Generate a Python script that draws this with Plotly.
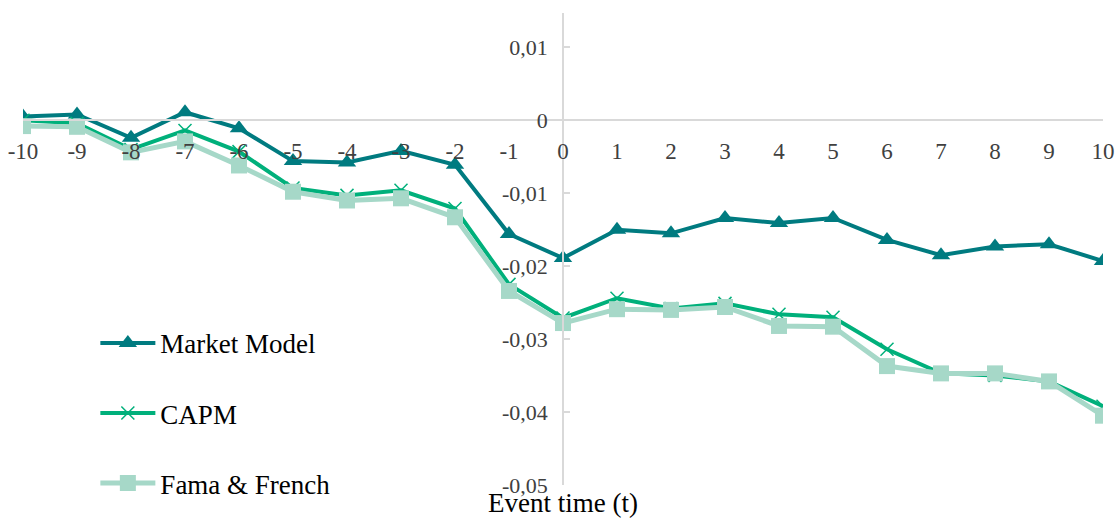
import plotly.graph_objects as go

# Event window (days relative to the event)
event_days = list(range(-10, 11))
x_tick_labels = [str(d) for d in event_days]

# Cumulative abnormal returns per model
market_model = [0.0005, 0.0008, -0.0024, 0.0011, -0.0011, -0.0056, -0.0058, -0.0042, -0.0061,
                -0.0156, -0.0189, -0.0150, -0.0155, -0.0134, -0.0141, -0.0134, -0.0164,
                -0.0185, -0.0173, -0.0170, -0.0193]
capm = [0.0000, -0.0004, -0.0040, -0.0014, -0.0043, -0.0093, -0.0103, -0.0096, -0.0121,
        -0.0225, -0.0271, -0.0244, -0.0258, -0.0251, -0.0266, -0.0270, -0.0314,
        -0.0347, -0.0350, -0.0358, -0.0392]
fama_french = [-0.0008, -0.0009, -0.0044, -0.0029, -0.0062, -0.0098, -0.0110, -0.0107, -0.0133,
               -0.0234, -0.0278, -0.0259, -0.0260, -0.0256, -0.0282, -0.0283, -0.0337,
               -0.0347, -0.0347, -0.0358, -0.0405]

y_tick_values = [-0.05, -0.04, -0.03, -0.02, -0.01, 0.0, 0.01]
y_tick_labels = ["-0,05", "-0,04", "-0,03", "-0,02", "-0,01", "0", "0,01"]

Y_MIN, Y_MAX = -0.05, 0.0147
X_MIN, X_MAX = -10, 10

FONT = "Liberation Serif"
AXIS_GREY = "#D9D9D9"
TICK_COLOR = "#404040"

fig = go.Figure()

fig.add_trace(go.Scatter(
    x=event_days, y=market_model, name="Market Model", mode="lines+markers",
    line=dict(color="#007B80", width=4),
    marker=dict(symbol="triangle-up", size=16, color="#007B80"),
    legendgroup="mm",
))
fig.add_trace(go.Scatter(
    x=event_days, y=capm, name="CAPM", mode="lines+markers",
    line=dict(color="#00B07B", width=4),
    marker=dict(symbol="x-thin", size=13, color="#00B07B",
                line=dict(color="#00B07B", width=1.5)),
    legendgroup="capm",
))
fig.add_trace(go.Scatter(
    x=event_days, y=fama_french, name="Fama & French", mode="lines+markers",
    line=dict(color="#A6D8C8", width=5),
    marker=dict(symbol="square", size=16, color="#A6D8C8"),
    legendgroup="ff",
))

zero_pos = (0 - Y_MIN) / (Y_MAX - Y_MIN)
mid_pos = (0 - X_MIN) / (X_MAX - X_MIN)

fig.update_layout(
    width=1120, height=519,
    margin=dict(l=23, r=17, t=13, b=34, autoexpand=False),
    paper_bgcolor="white", plot_bgcolor="white",
    font=dict(family=FONT, size=23, color=TICK_COLOR),
    showlegend=True,
    legend=dict(
        x=0.067, y=0.352, xanchor="left", yanchor="top",
        font=dict(family=FONT, size=27, color="#000000"),
        bgcolor="rgba(0,0,0,0)", tracegroupgap=32, itemwidth=55,
    ),
    xaxis=dict(
        range=[X_MIN, X_MAX], anchor="free", position=zero_pos,
        tickvals=event_days, ticktext=x_tick_labels,
        showgrid=False, zeroline=False,
        showline=True, linecolor=AXIS_GREY, linewidth=1.5,
        ticks="", ticklabelstandoff=10,
        tickfont=dict(family=FONT, size=23, color=TICK_COLOR),
    ),
    yaxis=dict(
        range=[Y_MIN, Y_MAX], anchor="free", position=mid_pos,
        tickvals=y_tick_values, ticktext=y_tick_labels,
        showgrid=False, zeroline=False,
        showline=True, linecolor=AXIS_GREY, linewidth=1.5,
        ticks="inside", ticklen=6, tickcolor=AXIS_GREY, tickwidth=1.5,
        ticklabelstandoff=10,
        tickfont=dict(family=FONT, size=22, color=TICK_COLOR),
    ),
    annotations=[dict(
        text="Event time (t)", xref="paper", yref="paper",
        x=0.5, y=-0.038, xanchor="center", yanchor="middle", showarrow=False,
        font=dict(family=FONT, size=27, color="#000000"),
    )],
)

fig.write_html("out.html")
